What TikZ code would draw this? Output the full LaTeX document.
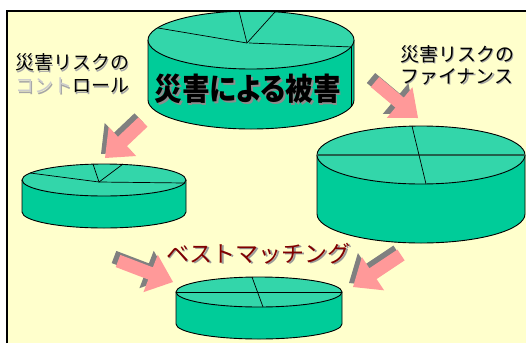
\documentclass[tikz,border=0pt]{standalone}
\usepackage{fontspec}
\usepackage{graphicx}
\newfontfamily\jp{Noto Sans CJK JP}
\newfontfamily\jpp{Noto Sans CJK JP}[RawFeature=+palt]
\usetikzlibrary{calc}
\definecolor{bgyellow}{HTML}{FFFFCC}
\definecolor{cyltop}{HTML}{33D6AA}
\definecolor{cylside}{HTML}{00CC99}
\definecolor{arrpink}{HTML}{FF9999}
\definecolor{arrshadow}{HTML}{808080}
\definecolor{darkred}{HTML}{800000}
\definecolor{seam}{HTML}{22604C}
\tikzset{
  outline/.style={draw=black, line width=0.9pt},
  pieline/.style={draw=black, line width=0.7pt},
  seamline/.style={draw=seam, line width=1.3pt},
  lbl/.style={inner sep=0pt, anchor=west, font=\jp\fontsize{19}{19}\selectfont},
  bigtxt/.style={inner sep=0pt, font=\jpp\bfseries\fontsize{31}{31}\selectfont},
  bmtxt/.style={inner sep=0pt, anchor=west, font=\jp\fontsize{23}{23}\selectfont},
}
% text with drop shadow: #1 shadow colour, #2 shadow text, #3 main text
\newcommand\shd[3]{\rlap{\hspace{1.5pt}\raisebox{-1.5pt}{\textcolor{#1}{#2}}}#3}
% cylinder: #1 cx, #2 ytop, #3 ybot, #4 rx, #5 ry
\newcommand\mycyl[5]{%
  \fill[cylside] (#1-#4,#2) -- (#1-#4,#3) arc[start angle=180, end angle=0, x radius=#4, y radius=#5]
     -- (#1+#4,#2) arc[start angle=0, end angle=180, x radius=#4, y radius=#5] -- cycle;
  \draw[outline] (#1-#4,#2) -- (#1-#4,#3) arc[start angle=180, end angle=0, x radius=#4, y radius=#5] -- (#1+#4,#2);
  \filldraw[fill=cyltop, outline] (#1,#2) ellipse[x radius=#4, y radius=#5];
}
% block arrow: #1 colour, #2 tail, #3 tip
\newcommand\barrow[3]{%
  \coordinate (bT) at (#2);
  \coordinate (bP) at (#3);
  \coordinate (bB) at ($(bP)!24pt!(bT)$);
  \fill[#1] ($(bT)!6.5pt!90:(bP)$) -- ($(bB)!6.5pt!90:(bP)$) -- ($(bB)!20pt!90:(bP)$)
     -- (bP) -- ($(bB)!20pt!-90:(bP)$) -- ($(bB)!6.5pt!-90:(bP)$) -- ($(bT)!6.5pt!-90:(bP)$) -- cycle;
}
\newcommand\shadowarrow[2]{%
  \begin{scope}[shift={(-4,-4)}]\barrow{arrshadow}{#1}{#2}\end{scope}
  \barrow{arrpink}{#1}{#2}
}
\begin{document}
\begin{tikzpicture}[x=1pt, y=-1pt]
\useasboundingbox (0,0) rectangle (526,343);
\fill[white] (0,0) rectangle (526,343);
\fill[bgyellow] (7,11) rectangle (526,343);
\begin{scope}
\clip (7,11) rectangle (526,343);
% big cylinder
\mycyl{251}{40}{100}{103}{29}
\draw[pieline] (247,43) -- (158,28);
\draw[pieline] (247,43) -- (239,11);
\draw[pieline] (247,43) -- (275,12);
\draw[pieline] (249,43) -- (352,47);
\draw[pieline] (351,47) -- (351,107);
\node[bigtxt] (dmg) at (248,90) {\scalebox{0.89}[1]{\shd{black!45}{災害による被害}{災害による被害}}};
% left cylinder
\mycyl{104}{180}{212}{82}{16}
\draw[pieline] (99,182) -- (30,173);
\draw[pieline] (99,182) -- (93,164);
\draw[pieline] (99,182) -- (123,164);
\draw[pieline] (99,182) -- (185,183);
% right cylinder
\mycyl{421}{155}{214}{104}{29}
\draw[seamline] (317,155) -- (525,155);
\draw[pieline] (412,126) -- (426,184);
% bottom cylinder
\mycyl{259}{292}{324}{83}{15}
\draw[pieline] (176,292) -- (342,292);
\draw[pieline] (252,277) -- (263,307);
% arrows
\shadowarrow{143,122}{105,158}
\shadowarrow{375,82}{418,118}
\shadowarrow{118,261}{173,282}
\shadowarrow{401,255}{353,287}
% labels
\node[lbl] (c1) at (15,63.5) {\shd{black!35}{災害リスクの}{災害リスクの}};
\node[lbl] (c2) at (15,86.5) {\shd{black!35}{コントロール}{\textcolor{black!20}{コント}ロール}};
\node[lbl] (f1) at (400,55) {\shd{black!35}{災害リスクの}{災害リスクの}};
\node[lbl] (f2) at (400,77.5) {\shd{black!35}{ファイナンス}{ファイナンス}};
\node[bmtxt, text=darkred] (bm) at (166,254) {\shd{black!40}{ベストマッチング}{ベストマッチング}};
\end{scope}
\draw[line width=1.3pt] (7,343) -- (7,11) -- (526,11);
\end{tikzpicture}
\end{document}
